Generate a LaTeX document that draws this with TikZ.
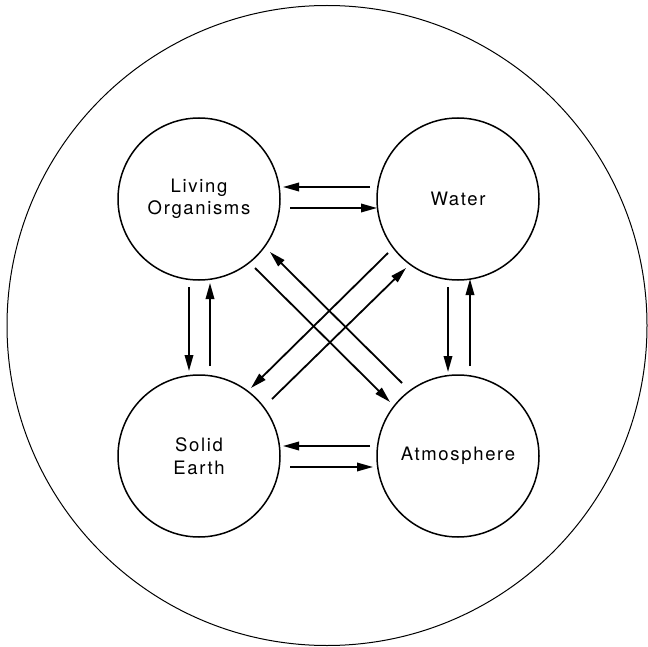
\documentclass[tikz,border=0pt]{standalone}
\usepackage{fontspec}
\usetikzlibrary{arrows.meta,calc}
\newfontfamily\labelfont[LetterSpace=9]{TeX Gyre Heros}
\begin{document}
\begin{tikzpicture}[x=1pt,y=-1pt,
  sphere/.style={circle,draw,line width=1.5pt,minimum size=162pt,inner sep=0pt,
    align=center,font=\labelfont\fontsize{18.5}{22.5}\selectfont},
  flow/.style={line width=1.8pt,-{Triangle[length=16pt,width=8.5pt]}}]
\useasboundingbox (0,0) rectangle (648,647);
% enclosing system boundary
\draw[line width=1pt] (327,325.5) circle[radius=320];
% the four reservoirs
\node[sphere] (lo) at (199,199) {Living\\Organisms};
\node[sphere] (wa) at (458,199) {Water};
\node[sphere] (se) at (199,456) {Solid\\Earth};
\node[sphere] (at) at (458,456) {Atmosphere};
% horizontal exchanges
\draw[flow] ($(wa)+(-88,-12)$) -- ($(lo)+(84,-12)$);
\draw[flow] ($(lo)+(91,9)$) -- ($(wa)+(-81,9)$);
\draw[flow] ($(at)+(-88,-10)$) -- ($(se)+(84,-10)$);
\draw[flow] ($(se)+(91,11)$) -- ($(at)+(-85,11)$);
% vertical exchanges
\draw[flow] ($(lo)+(-10,88)$) -- ($(se)+(-10,-85)$);
\draw[flow] ($(se)+(11,-90)$) -- ($(lo)+(11,84)$);
\draw[flow] ($(wa)+(-10,88)$) -- ($(at)+(-10,-84)$);
\draw[flow] ($(at)+(12,-90)$) -- ($(wa)+(12,80)$);
% diagonal exchanges
\draw[flow] ($(lo)+(56,69)$) -- ($(at)+(-68,-54)$);
\draw[flow] ($(at)+(-56,-73)$) -- ($(lo)+(71,53)$);
\draw[flow] ($(wa)+(-70,54)$) -- ($(se)+(52,-68)$);
\draw[flow] ($(se)+(73,-57)$) -- ($(wa)+(-52,69)$);
\end{tikzpicture}
\end{document}
